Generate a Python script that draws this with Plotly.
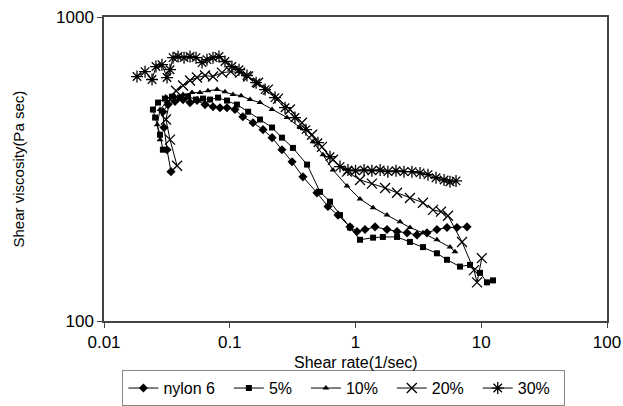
import plotly.graph_objects as go

# ---- data ----
nylon6_x = [0.0341, 0.0317, 0.0300, 0.0294, 0.0323, 0.0367, 0.0425, 0.0483, 0.0549, 0.0636,
            0.0736, 0.0836, 0.0951, 0.110, 0.127, 0.153, 0.184, 0.217, 0.260, 0.313,
            0.382, 0.494, 0.604, 0.726, 0.904, 1.028, 1.19, 1.43, 1.78, 2.14,
            2.57, 3.08, 3.70, 4.44, 5.34, 6.41, 7.71]
nylon6_y = [310, 366, 433, 488, 515, 527, 535, 523, 531, 515,
            507, 503, 503, 496, 470, 449, 426, 401, 366, 334,
            298, 264, 238, 223, 204, 197, 200, 204, 200, 197,
            195, 192, 195, 200, 203, 203, 204]

p5_x = [0.0294, 0.0279, 0.0255, 0.0245, 0.0269, 0.0305, 0.0347, 0.0402, 0.0466, 0.0539,
        0.0613, 0.0697, 0.0807, 0.0951, 0.114, 0.140, 0.174, 0.217, 0.260, 0.318,
        0.412, 0.522, 0.627, 0.753, 0.904, 1.086, 1.38, 1.65, 2.14, 2.71,
        3.44, 4.44, 5.34, 6.78, 8.14, 9.77, 11.1, 12.4]
p5_y = [366, 410, 467, 496, 523, 539, 547, 543, 547, 535,
        539, 535, 543, 531, 515, 488, 460, 433, 401, 371,
        327, 266, 247, 223, 203, 185, 188, 189, 189, 182,
        175, 167, 159, 151, 153, 144, 134, 136]

p10_x = [0.0279, 0.0265, 0.0279, 0.0317, 0.0367, 0.0425, 0.0501, 0.0580, 0.0671, 0.0792,
         0.0916, 0.106, 0.123, 0.145, 0.174, 0.217, 0.285, 0.362, 0.459, 0.551,
         0.662, 0.856, 1.086, 1.38, 1.78, 2.26, 2.71, 3.44, 4.44, 5.64, 6.18]
p10_y = [395, 442, 496, 527, 547, 556, 564, 564, 572, 577,
         568, 556, 551, 535, 523, 496, 467, 433, 389, 352,
         314, 278, 252, 236, 223, 212, 203, 195, 185, 175, 169]

p20_x = [0.0381, 0.0335, 0.0311, 0.0335, 0.0374, 0.0425, 0.0483, 0.0549, 0.0636, 0.0736,
         0.0867, 0.102, 0.121, 0.140, 0.168, 0.201, 0.242, 0.301, 0.375, 0.451,
         0.541, 0.662, 0.856, 1.086, 1.35, 1.72, 2.14, 2.71, 3.44, 4.13,
         4.79, 5.44, 7.03, 8.76, 9.26, 10.1]
p20_y = [324, 395, 460, 535, 572, 595, 618, 632, 642, 637,
         656, 661, 656, 637, 608, 577, 539, 496, 449, 410,
         374, 339, 310, 291, 283, 274, 264, 254, 245, 232,
         229, 222, 182, 147, 134, 161]

p30_x = [0.0183, 0.0212, 0.0241, 0.0259, 0.0289, 0.0317, 0.0335, 0.0354, 0.0388, 0.0433,
         0.0483, 0.0539, 0.0602, 0.0659, 0.0736, 0.0821, 0.0916, 0.104, 0.1185, 0.137,
         0.162, 0.191, 0.229, 0.275, 0.330, 0.404, 0.503, 0.627, 0.753, 0.871,
         1.0, 1.17, 1.35, 1.57, 1.81, 2.10, 2.43, 2.81, 3.26, 3.77,
         4.37, 5.06, 5.64, 6.30]
p30_y = [637, 661, 623, 687, 697, 632, 671, 735, 741, 735,
         741, 735, 708, 724, 735, 741, 714, 687, 671, 642,
         608, 577, 543, 503, 467, 426, 386, 347, 322, 314,
         312, 314, 312, 314, 310, 312, 310, 310, 307, 303,
         296, 291, 287, 289]

series_names = ["nylon 6", "5%", "10%", "20%", "30%"]
x_ticks = [0.01, 0.1, 1, 10, 100]
x_tick_labels = ["0.01", "0.1", "1", "10", "100"]
y_ticks = [100, 1000]
y_tick_labels = ["100", "1000"]

FONT = "Liberation Sans, Arial, sans-serif"
PAD = "\u00a0\u00a0"

styles = [
    dict(symbol="diamond", size=7, line=dict(width=0)),
    dict(symbol="square", size=6, line=dict(width=0)),
    dict(symbol="triangle-up", size=6, line=dict(width=0)),
    dict(symbol="x-thin-open", size=10, line=dict(width=1.3, color="black")),
    dict(symbol="asterisk-open", size=10, line=dict(width=1.3, color="black")),
]
data = [(nylon6_x, nylon6_y), (p5_x, p5_y), (p10_x, p10_y), (p20_x, p20_y), (p30_x, p30_y)]

fig = go.Figure()
for name, (xs, ys), st in zip(series_names, data, styles):
    fig.add_trace(go.Scatter(
        x=xs, y=ys, name=name + PAD, mode="lines+markers",
        line=dict(color="black", width=1),
        marker=dict(color="black", **st),
    ))

fig.update_layout(
    width=623, height=406, autosize=False,
    margin=dict(l=104, r=16, t=17, b=85),
    paper_bgcolor="white", plot_bgcolor="white",
    font=dict(family=FONT, color="black", size=16),
    showlegend=True,
    legend=dict(orientation="h", xref="container", yref="container",
                x=0.552, xanchor="center", y=0.044, yanchor="middle",
                bordercolor="#888", borderwidth=1, font=dict(size=16),
                tracegroupgap=0),
    xaxis=dict(type="log", range=[-2, 2], tickvals=x_ticks, ticktext=x_tick_labels,
               ticks="outside", ticklen=5, tickcolor="#444", showgrid=False,
               showline=True, linecolor="#444", linewidth=1.5, mirror=True,
               zeroline=False, tickfont=dict(size=17), automargin=False),
    yaxis=dict(type="log", range=[2, 3], tickvals=y_ticks, ticktext=y_tick_labels,
               ticks="outside", ticklen=5, tickcolor="#444", showgrid=False,
               showline=True, linecolor="#444", linewidth=1.5, mirror=True,
               zeroline=False, tickfont=dict(size=17), automargin=False),
    annotations=[
        dict(text="Shear rate(1/sec)", xref="paper", yref="paper", x=0.5, y=-0.135,
             xanchor="center", yanchor="middle", showarrow=False, font=dict(size=16)),
        dict(text="Shear viscosity(Pa sec)", xref="paper", yref="paper", x=-0.17, y=0.5,
             xanchor="center", yanchor="middle", showarrow=False, textangle=-90,
             font=dict(size=15)),
    ],
)

fig.write_html("out.html",
               config={"displayModeBar": False, "responsive": False},
               post_script="document.body.style.margin='0';document.body.style.overflow='hidden';")
